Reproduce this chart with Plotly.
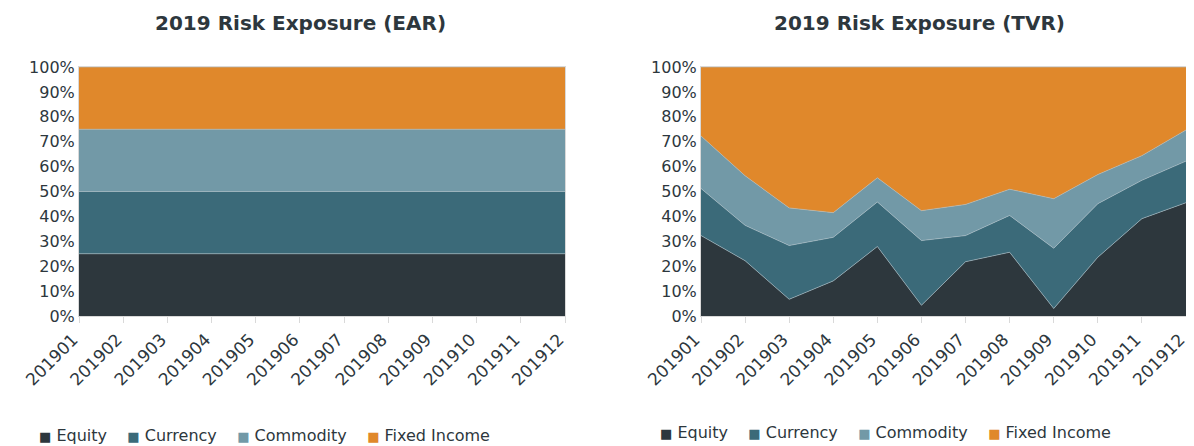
import plotly.graph_objects as go

months = ['201901', '201902', '201903', '201904', '201905', '201906',
          '201907', '201908', '201909', '201910', '201911', '201912']
series = ['Equity', 'Currency', 'Commodity', 'Fixed Income']

# EAR: equal split every month
ear_equity = [25] * 12
ear_currency = [25] * 12
ear_commodity = [25] * 12
ear_fixed = [25] * 12

# TVR (percent)
tvr_equity = [32.3, 22.2, 6.7, 14.1, 27.9, 4.3, 21.8, 25.6, 3.0, 23.6, 39.1, 45.5]
tvr_currency = [18.9, 14.2, 21.6, 17.5, 17.9, 26.0, 10.5, 14.8, 24.2, 21.5, 15.4, 16.7]
tvr_commodity = [21.1, 19.9, 15.1, 9.9, 9.7, 12.0, 12.5, 10.5, 19.9, 11.7, 9.9, 12.5]
tvr_fixed = [27.7, 43.7, 56.6, 58.5, 44.5, 57.7, 55.2, 49.1, 52.9, 43.2, 35.6, 25.3]

colors = ['#2d373d', '#3b6a79', '#7299a7', '#e0882b']
font = 'DejaVu Sans'
text_col = '#2d373d'

# page has an 8px body margin, so the figure is sized to fit the window
W, H = 1186, 438


def px(x):
    return (x - 8) / W


def py(y):
    return 1 - (y - 8) / H


fig = go.Figure()

panels = [
    ([ear_equity, ear_currency, ear_commodity, ear_fixed], 'x', 'y', 'ear'),
    ([tvr_equity, tvr_currency, tvr_commodity, tvr_fixed], 'x2', 'y2', 'tvr'),
]
for vals, xa, ya, grp in panels:
    for name, v, c in zip(series, vals, colors):
        fig.add_trace(go.Scatter(
            x=months, y=[val / 100 for val in v], name=name,
            mode='lines', stackgroup=grp, fillcolor=c,
            line=dict(color='#a9bcc4', width=0.6),
            xaxis=xa, yaxis=ya, showlegend=False,
        ))

xa_common = dict(type='category', range=[0, 11], showgrid=False, showline=True,
                 linecolor='#d9d9d9', linewidth=1, mirror=True, automargin=False,
                 ticks='outside', tickcolor='#d9d9d9', ticklen=6,
                 ticklabelshift=-6,
                 tickangle=-45, tickfont=dict(family=font, size=17, color=text_col))
ya_common = dict(range=[0, 1], dtick=0.1, tickformat='.0%', showgrid=False,
                 showline=True, linecolor='#d9d9d9', linewidth=1, mirror=True,
                 ticks='', zeroline=False, automargin=False,
                 tickfont=dict(family=font, size=16, color=text_col))

# legend line built as text: small coloured square + name
legend_text = '&nbsp;&nbsp;&nbsp;&nbsp;'.join(
    f"<span style='color:{c};font-size:13px'>■</span>&nbsp;{n}"
    for n, c in zip(series, colors))

fig.update_layout(
    width=W, height=H,
    margin=dict(l=0, r=0, t=0, b=0, autoexpand=False),
    paper_bgcolor='white', plot_bgcolor='white',
    showlegend=False,
    xaxis=dict(domain=[px(79), px(565)], anchor='y', **xa_common),
    yaxis=dict(domain=[py(316), py(67)], anchor='x', **ya_common),
    xaxis2=dict(domain=[px(701), px(1186)], anchor='y2', **xa_common),
    yaxis2=dict(domain=[py(316), py(67)], anchor='x2', **ya_common),
    annotations=[
        dict(text='<b>2019 Risk Exposure (EAR)</b>', x=px(300), y=py(23),
             xref='paper', yref='paper', xanchor='center', yanchor='middle',
             showarrow=False, font=dict(family=font, size=20, color=text_col)),
        dict(text='<b>2019 Risk Exposure (TVR)</b>', x=px(920), y=py(23),
             xref='paper', yref='paper', xanchor='center', yanchor='middle',
             showarrow=False, font=dict(family=font, size=20, color=text_col)),
        dict(text=legend_text, x=px(264), y=py(435),
             xref='paper', yref='paper', xanchor='center', yanchor='middle',
             showarrow=False, font=dict(family=font, size=16, color=text_col)),
        dict(text=legend_text, x=px(885), y=py(432),
             xref='paper', yref='paper', xanchor='center', yanchor='middle',
             showarrow=False, font=dict(family=font, size=16, color=text_col)),
    ],
)

fig.write_html('out.html')
